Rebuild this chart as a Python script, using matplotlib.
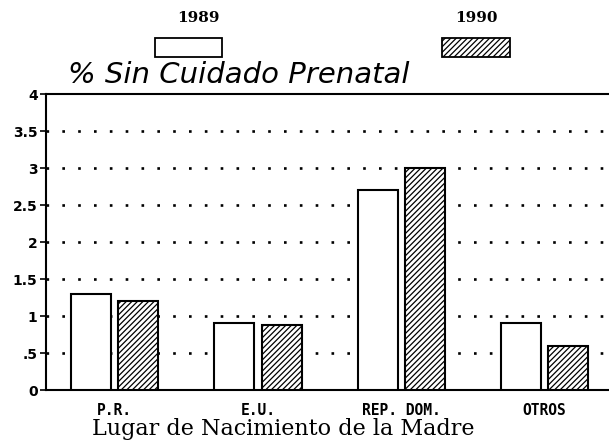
import matplotlib
matplotlib.use("Agg")
import matplotlib.pyplot as plt
from matplotlib.patches import Rectangle
import numpy as np

plt.rcParams['hatch.linewidth'] = 0.9

categories = ["P.R.", "E.U.", "REP. DOM.", "OTROS"]
years = ["1989", "1990"]
values_1989 = [1.3, 0.9, 2.7, 0.9]
values_1990 = [1.2, 0.88, 3.0, 0.6]
ytick_values = [0, 0.5, 1, 1.5, 2, 2.5, 3, 3.5, 4]
ytick_labels = ["0", ".5", "1", "1.5", "2", "2.5", "3", "3.5", "4"]

fig = plt.figure(figsize=(6.09, 4.47), dpi=100)
ax = fig.add_axes([0.0755, 0.1275, 0.9245, 0.6622])

x = np.arange(len(categories))
w = 0.28
off = 0.165

# dotted reference lines
for yv in ytick_values[1:-1]:
    ax.axhline(yv, color="black", lw=1.9, linestyle=(0, (1, 5)), zorder=1)

ax.bar(x - off, values_1989, width=w, color="white", edgecolor="black",
       linewidth=1.5, zorder=3)
ax.bar(x + off, values_1990, width=w, color="white", edgecolor="black",
       linewidth=1.5, hatch="//////", zorder=3)

ax.set_xlim(-0.48, 3.45)
ax.set_ylim(0, 4)
ax.set_yticks(ytick_values)
ax.set_yticklabels(ytick_labels, fontsize=10, fontweight="bold",
                   family="DejaVu Sans")
ax.set_xticks(x)
ax.set_xticklabels(categories, fontsize=10.5, fontweight="bold",
                   family="DejaVu Sans Mono")
ax.tick_params(axis="x", length=0, pad=9)
ax.tick_params(axis="y", length=4, width=1.2, pad=2)

ax.spines["right"].set_visible(False)
for s in ["top", "left", "bottom"]:
    ax.spines[s].set_linewidth(1.5)

fig.text(283 / 609, 1 - 429 / 447, "Lugar de Nacimiento de la Madre",
         fontsize=16, family="DejaVu Serif", ha="center", va="center")

# title
fig.text(68 / 609, 1 - 75 / 447, "% Sin Cuidado Prenatal", fontsize=21,
         family="DejaVu Sans", style="italic", ha="left", va="center")

# legend
fig.text(198 / 609, 1 - 18 / 447, years[0], fontsize=11, fontweight="bold",
         ha="center", va="center", family="DejaVu Serif")
fig.text(476 / 609, 1 - 18 / 447, years[1], fontsize=11, fontweight="bold",
         ha="center", va="center", family="DejaVu Serif")
fig.patches.append(Rectangle((155 / 609, 1 - 57 / 447), 67 / 609, 19 / 447,
                             transform=fig.transFigure, facecolor="white",
                             edgecolor="black", lw=1.3))
fig.patches.append(Rectangle((442 / 609, 1 - 57 / 447), 68 / 609, 19 / 447,
                             transform=fig.transFigure, facecolor="white",
                             edgecolor="black", lw=1.3, hatch="//////"))

fig.savefig("out.png", dpi=100)
